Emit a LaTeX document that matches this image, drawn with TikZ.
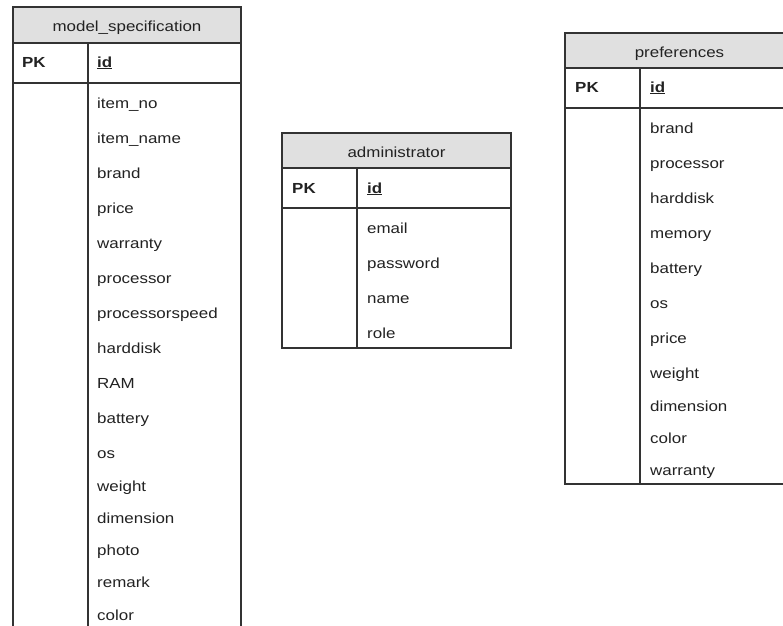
\documentclass[tikz,border=0pt]{standalone}
\usepackage{fontspec}
\setmainfont[FakeStretch=1.16]{Liberation Sans}
\definecolor{hdrfill}{HTML}{E0E0E0}
\definecolor{linec}{HTML}{333333}
\definecolor{txtc}{HTML}{222222}
\tikzset{
  tbl/.style={draw=linec, line width=1.3pt},
  sep/.style={draw=linec, line width=1.3pt},
  hdrbox/.style={fill=hdrfill},
  fld/.style={anchor=base west, inner sep=0pt, text=txtc, font=\fontsize{14.6}{17}\selectfont},
  ttl/.style={anchor=base, inner sep=0pt, text=txtc, font=\fontsize{14.6}{17}\selectfont},
  pk/.style={anchor=base west, inner sep=0pt, text=txtc, font=\fontsize{14.6}{17}\selectfont\bfseries}
}
\begin{document}
\begin{tikzpicture}[x=1pt,y=-1pt]
\useasboundingbox (0,0) rectangle (783,625);
\clip (0,0) rectangle (783,625);
\fill[white] (0,0) rectangle (783,625);

% ---------- model_specification ----------
\fill[hdrbox] (13,7) rectangle (241,43);
\draw[sep] (13,43) -- (241,43);
\draw[sep] (13,83) -- (241,83);
\draw[sep] (88,43) -- (88,640);
\draw[tbl] (13,7) rectangle (241,640);
\node[ttl] (mstitle) at (127,31) {model\_specification};
\node[pk] (mspk) at (22,67) {PK};
\node[pk] (msid) at (97,67) {\underline{id}};
\foreach \t/\y [count=\i] in {item\_no/108, item\_name/143, brand/178, price/213, warranty/248, processor/283, processorspeed/318, harddisk/353, RAM/388, battery/423, os/458, weight/491, dimension/523, photo/555, remark/587, color/620}
  \node[fld] (ms\i) at (97,\y) {\t};

% ---------- administrator ----------
\fill[hdrbox] (282,133) rectangle (511,168);
\draw[sep] (282,168) -- (511,168);
\draw[sep] (282,208) -- (511,208);
\draw[sep] (357,168) -- (357,348);
\draw[tbl] (282,133) rectangle (511,348);
\node[ttl] (adtitle) at (396.5,157) {administrator};
\node[pk] (adpk) at (292,193) {PK};
\node[pk] (adid) at (367,193) {\underline{id}};
\foreach \t/\y [count=\i] in {email/233, password/268, name/303, role/338}
  \node[fld] (ad\i) at (367,\y) {\t};

% ---------- preferences ----------
\fill[hdrbox] (565,33) rectangle (794,68);
\draw[sep] (565,68) -- (794,68);
\draw[sep] (565,108) -- (794,108);
\draw[sep] (640,68) -- (640,484);
\draw[tbl] (565,33) rectangle (794,484);
\node[ttl] (prtitle) at (679.5,57) {preferences};
\node[pk] (prpk) at (575,92) {PK};
\node[pk] (prid) at (650,92) {\underline{id}};
\foreach \t/\y [count=\i] in {brand/133, processor/168, harddisk/203, memory/238, battery/273, os/308, price/343, weight/378, dimension/411, color/443, warranty/475}
  \node[fld] (pr\i) at (650,\y) {\t};
\end{tikzpicture}
\end{document}
